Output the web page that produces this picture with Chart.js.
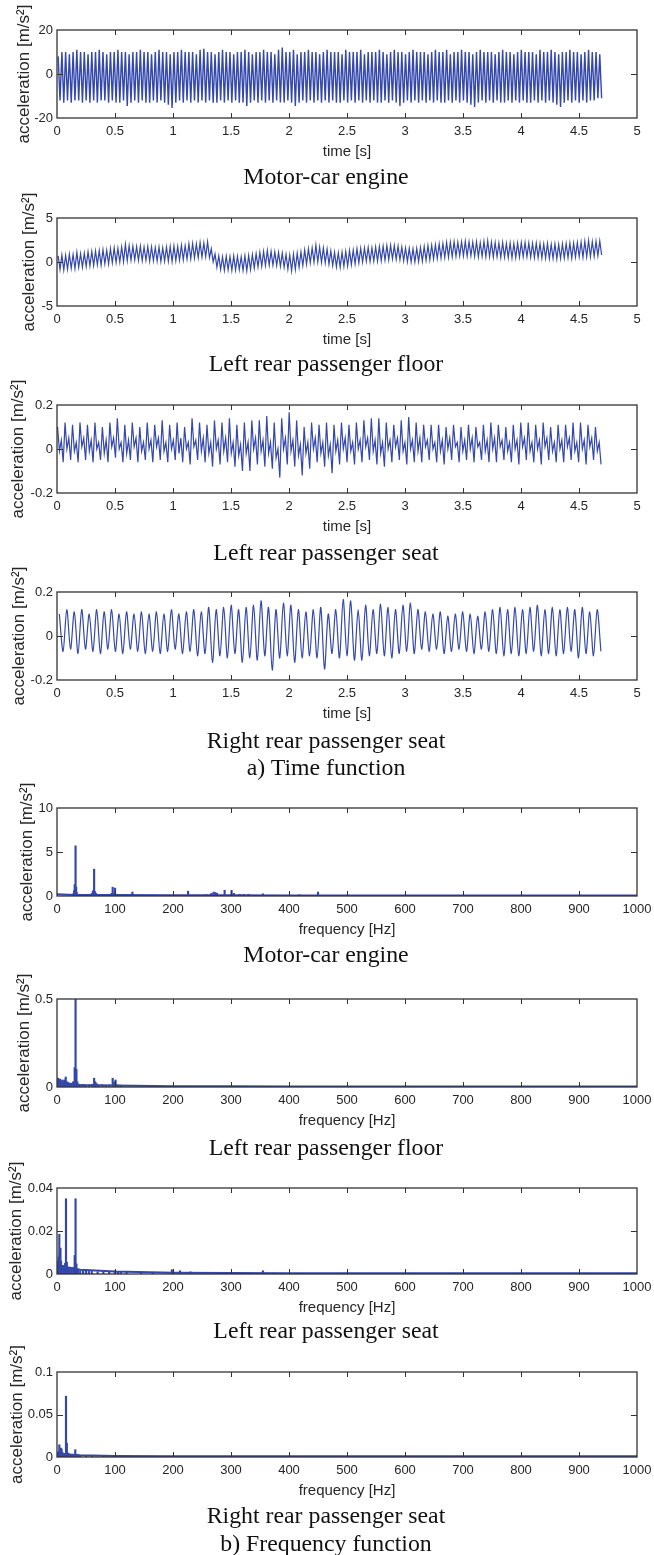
<!DOCTYPE html>
<html>
<head>
<meta charset="utf-8">
<script src="https://cdn.jsdelivr.net/npm/chart.js@4.4.1/dist/chart.umd.min.js"></script>
<style>
  body { margin: 0; background: #fff; }
  #page { position: relative; width: 654px; height: 1555px; overflow: hidden; background: #fff; }
  #page canvas { position: absolute; left: 0; }
  .caption {
    position: absolute; left: 0; width: 652px; text-align: center;
    font: 23.8px/1 "Liberation Serif", "Times New Roman", serif; color: #111; white-space: nowrap;
  }
</style>
</head>
<body>
<div id="page"></div>
<script>
// ---- axis ticks ----
const timeTicks = [0, 0.5, 1, 1.5, 2, 2.5, 3, 3.5, 4, 4.5, 5];
const freqTicks = [0, 100, 200, 300, 400, 500, 600, 700, 800, 900, 1000];
const engineTimeYTicks = [-20, 0, 20];
const floorTimeYTicks = [-5, 0, 5];
const seatTimeYTicks = [-0.2, 0, 0.2];
const engineSpecYTicks = [0, 5, 10];
const floorSpecYTicks = [0, 0.5];
const seatLSpecYTicks = [0, 0.02, 0.04];
const seatRSpecYTicks = [0, 0.05, 0.1];

// ---- time signals: successive maxima / minima of each oscillation ----
const halfStep = 0.0161;   // s between a maximum and the next minimum (~31 Hz)

const enginePeaks = [
  8, 10, 10, 9, 10, 11, 10, 10, 9, 10,
  10, 11, 10, 9, 10, 10, 11, 10, 10, 9,
  10, 10, 11, 10, 10, 9, 10, 11, 10, 10,
  9, 10, 10, 11, 10, 10, 10, 9, 11, 11.5,
  10, 10, 9, 10, 11, 10, 10, 9, 10, 10,
  11, 10, 9, 10, 10, 11, 10, 10, 9, 11,
  12, 10, 10, 11, 9, 10, 10, 11, 10, 10,
  9, 10, 11, 10, 10, 10, 9, 11, 10, 10,
  10, 11, 9, 10, 10, 10, 11, 10, 9, 10,
  11, 10, 10, 9, 10, 11, 10, 10, 10, 9,
  10, 11, 10, 10, 11, 9, 10, 10, 11, 10,
  10, 9, 10, 11, 10, 10, 10, 9, 10, 11,
  10, 10, 9, 10, 11, 10, 10, 10, 9, 11,
  10, 10, 11, 10, 9, 10, 10, 11, 10, 10,
  9, 10, 11, 10, 10, 9
];
const engineTroughs = [
  -12, -13, -12, -13, -12, -12, -13, -12, -13, -12,
  -13, -12, -12, -13, -12, -13, -13, -12, -14.5, -13,
  -12, -13, -12, -13, -13, -12, -13, -12, -13, -14,
  -15.5, -13, -12, -13, -12, -13, -12, -13, -12, -13,
  -12, -13, -13, -12, -13, -12, -13, -12, -13, -13,
  -14.5, -13, -12, -13, -12, -13, -12, -13, -12, -13,
  -13, -12, -13, -14.5, -13, -12, -13, -12, -13, -12,
  -13, -12, -13, -12, -13, -13, -12, -13, -12, -13,
  -12, -13, -12, -13, -12, -13, -13, -12, -13, -12,
  -13, -14.5, -13, -12, -13, -12, -13, -12, -13, -12,
  -13, -12, -13, -13, -12, -13, -12, -13, -12, -13,
  -14, -15, -13, -12, -13, -12, -13, -12, -13, -13,
  -12, -13, -12, -13, -12, -13, -13, -12, -13, -12,
  -13, -12, -13, -14, -15, -13, -12, -13, -12, -13,
  -12, -13, -12, -12, -11, -11
];

const floorPeaks = [
  0.7, 0.8, 0.75, 0.9, 0.85, 1.1, 0.95, 1.0, 1.15, 1.2,
  1.25, 1.3, 1.4, 1.35, 1.5, 1.6, 1.55, 1.7, 2.0, 1.85,
  1.8, 1.75, 1.8, 1.7, 1.75, 1.7, 1.65, 1.7, 1.6, 1.7,
  1.75, 1.8, 1.75, 1.9, 1.85, 2.05, 2.1, 2.05, 2.2, 2.15,
  2.3, 1.5, 0.9, 0.7, 0.6, 0.65, 0.6, 0.7, 0.65, 0.6,
  0.7, 0.75, 0.85, 0.95, 1.1, 1.2, 1.3, 1.2, 1.15, 1.1,
  1.0, 0.85, 0.8, 0.9, 1.0, 1.15, 1.35, 1.5, 1.6, 1.9,
  1.7, 1.6, 1.45, 1.25, 1.1, 1.05, 1.1, 1.2, 1.3, 1.35,
  1.5, 1.55, 1.6, 1.65, 1.6, 1.7, 1.75, 1.8, 1.85, 1.9,
  1.85, 1.8, 1.7, 1.6, 1.55, 1.5, 1.55, 1.65, 1.75, 1.85,
  1.9, 1.95, 2.05, 2.1, 2.2, 2.25, 2.3, 2.25, 2.3, 2.35,
  2.3, 2.25, 2.3, 2.2, 2.35, 2.4, 2.25, 2.2, 2.15, 2.2,
  2.1, 2.15, 2.1, 2.15, 2.2, 2.2, 2.15, 2.1, 2.15, 2.1,
  2.05, 2.1, 2.0, 2.05, 2.0, 2.05, 2.1, 2.15, 2.15, 2.2,
  2.25, 2.35, 2.45, 2.3, 2.35, 2.4
];
const floorTroughs = [
  -0.85, -0.9, -0.8, -0.7, -0.75, -0.6, -0.6, -0.5, -0.45, -0.4,
  -0.3, -0.35, -0.2, -0.2, -0.1, -0.05, 0.0, 0.05, 0.15, 0.2,
  0.25, 0.2, 0.15, 0.2, 0.1, 0.15, 0.1, 0.05, 0.1, 0.1,
  0.05, 0.15, 0.2, 0.25, 0.35, 0.35, 0.45, 0.5, 0.55, 0.6,
  0.5, 0.0, -0.6, -0.85, -0.95, -0.9, -0.95, -0.9, -0.85, -0.95,
  -1.0, -0.85, -0.7, -0.55, -0.5, -0.4, -0.35, -0.35, -0.4, -0.5,
  -0.6, -0.8, -1.0, -0.85, -0.6, -0.4, -0.25, -0.1, 0.0, 0.0,
  -0.05, -0.1, -0.25, -0.4, -0.55, -0.6, -0.5, -0.45, -0.3, -0.2,
  -0.1, 0.0, 0.1, 0.05, 0.1, 0.1, 0.15, 0.2, 0.25, 0.35,
  0.3, 0.25, 0.15, 0.05, 0.0, 0.0, 0.05, 0.1, 0.2, 0.25,
  0.35, 0.4, 0.45, 0.5, 0.55, 0.6, 0.65, 0.7, 0.7, 0.65,
  0.7, 0.65, 0.6, 0.65, 0.6, 0.6, 0.55, 0.6, 0.5, 0.55,
  0.5, 0.45, 0.5, 0.55, 0.6, 0.6, 0.55, 0.5, 0.5, 0.45,
  0.45, 0.4, 0.4, 0.35, 0.4, 0.45, 0.5, 0.45, 0.55, 0.6,
  0.55, 0.6, 0.6, 0.65, 0.7, 0.8
];

// left seat: main peak / small peak alternate, dip / trough alternate
const seatLPeaks = [
  .10, .04, .12, .05, .11, .03, .12, .05, .11, .04, .12, .03, .10, .04, .12, .05, .14, .03, .11, .04,
  .12, .05, .10, .03, .12, .04, .11, .05, .13, .03, .11, .04, .12, .05, .10, .03, .14, .04, .12, .05,
  .11, .03, .13, .04, .12, .05, .14, .03, .11, .02, .12, .03, .13, .05, .13, .04, .15, .03, .12, .00,
  .14, .05, .167, .04, .13, .02, .10, .03, .12, .05, .11, .03, .12, .02, .11, .04, .12, .05, .11, .03,
  .12, .04, .13, .05, .14, .04, .14, .03, .12, .04, .11, .05, .13, .03, .145, .04, .12, .05, .11, .04,
  .11, .03, .11, .04, .10, .05, .11, .03, .10, .04, .11, .05, .10, .03, .11, .04, .12, .05, .11, .04,
  .10, .03, .11, .04, .12, .05, .12, .03, .11, .04, .12, .05, .10, .03, .11, .04, .11, .05, .12, .03,
  .12, .04, .11, .05, .10, .03
];
const seatLTroughs = [
  -.01, -.06, .00, -.05, -.01, -.06, .01, -.05, -.01, -.06, .00, -.05, -.02, -.06, .01, -.04, .00, -.06, -.02, -.05,
  .01, -.06, -.01, -.05, .00, -.06, .01, -.05, -.01, -.06, .00, -.05, -.02, -.06, .00, -.07, .01, -.05, -.01, -.06,
  -.02, -.08, .00, -.07, -.01, -.06, -.02, -.08, -.03, -.10, -.02, -.10, .00, -.07, -.01, -.08, -.02, -.09, -.04, -.13,
  .00, -.07, -.01, -.08, -.03, -.12, -.02, -.09, .00, -.06, -.02, -.08, -.03, -.11, -.01, -.07, .00, -.06, -.01, -.07,
  .00, -.06, .01, -.05, -.01, -.07, -.02, -.08, .00, -.06, .01, -.05, -.01, -.07, .00, -.06, -.01, -.06, .01, -.05,
  .00, -.06, -.01, -.07, .00, -.05, .01, -.06, -.01, -.05, .00, -.06, .01, -.05, -.01, -.06, .00, -.06, .01, -.05,
  -.01, -.06, .00, -.07, .01, -.05, -.01, -.06, .00, -.07, .01, -.05, -.01, -.06, .00, -.06, .01, -.05, -.01, -.06,
  .00, -.07, .01, -.05, -.01, -.07
];

// right seat: one maximum and one minimum per ~15.5 Hz cycle
const seatRPeaks = [
  .10, .12, .11, .12, .10, .12, .11, .12, .10, .11,
  .10, .11, .10, .11, .10, .12, .10, .11, .12, .11,
  .13, .12, .13, .14, .12, .13, .14, .16, .13, .12,
  .15, .14, .12, .11, .12, .13, .10, .12, .167, .16,
  .12, .14, .12, .145, .13, .12, .14, .15, .12, .11,
  .10, .11, .09, .10, .11, .10, .09, .11, .12, .13,
  .12, .13, .12, .13, .14, .12, .13, .12, .13, .12,
  .13, .11, .12
];
const seatRTroughs = [
  -.07, -.06, -.08, -.06, -.07, -.08, -.06, -.07, -.08, -.06,
  -.07, -.08, -.07, -.08, -.07, -.06, -.08, -.07, -.09, -.08,
  -.12, -.09, -.10, -.08, -.12, -.10, -.11, -.09, -.155, -.10,
  -.09, -.12, -.10, -.09, -.10, -.15, -.08, -.10, -.09, -.11,
  -.11, -.09, -.08, -.09, -.10, -.08, -.07, -.08, -.06, -.07,
  -.06, -.08, -.07, -.06, -.07, -.08, -.06, -.07, -.08, -.09,
  -.08, -.09, -.08, -.07, -.09, -.08, -.09, -.08, -.07, -.10,
  -.08, -.09, -.07
];

// ---- spectra: discrete lines (Hz, amplitude) plus the low noise floor ----
const engineLineFreq = [28, 29.5, 30.5, 32, 33, 34, 36, 60, 62, 64, 65.5, 67, 69, 94, 96, 98, 100, 127, 130, 226, 258, 266, 270, 273, 276, 289, 301, 305, 315, 322, 330, 355, 418, 450];
const engineLineAmp  = [0.25, 0.6, 1.3, 5.7, 1.0, 0.4, 0.2, 0.3, 0.6, 3.05, 0.5, 0.3, 0.2, 0.3, 1.0, 0.3, 0.9, 0.2, 0.45, 0.55, 0.15, 0.3, 0.45, 0.4, 0.3, 0.65, 0.65, 0.3, 0.2, 0.2, 0.2, 0.25, 0.15, 0.45];

const floorLineFreq = [2, 4, 5, 7, 9, 11, 13, 15, 17, 19, 22, 25, 28, 30.5, 32, 33.5, 35, 38, 42, 46, 50, 55, 60, 64, 66, 68, 72, 78, 84, 90, 96, 99, 101, 105, 110];
const floorLineAmp  = [0.05, 0.04, 0.045, 0.03, 0.04, 0.035, 0.04, 0.057, 0.03, 0.025, 0.02, 0.02, 0.03, 0.11, 0.5, 0.1, 0.03, 0.015, 0.012, 0.015, 0.01, 0.012, 0.015, 0.05, 0.03, 0.02, 0.01, 0.012, 0.01, 0.012, 0.05, 0.03, 0.04, 0.012, 0.01];

const seatLLineFreq = [1, 2, 3, 4, 5, 6, 7, 8, 9, 10, 11, 12, 13, 14, 15.5, 17, 18, 20, 22, 25, 28, 30.5, 32, 33.5, 36, 40, 45, 50, 55, 60, 70, 80, 90, 100, 105, 110, 120, 145, 165, 198, 212, 230, 355];
const seatLLineAmp  = [0.004, 0.006, 0.008, 0.0185, 0.01, 0.012, 0.006, 0.004, 0.004, 0.003, 0.004, 0.003, 0.004, 0.005, 0.035, 0.0055, 0.003, 0.003, 0.0025, 0.003, 0.003, 0.0086, 0.035, 0.0047, 0.002, 0.0015, 0.0015, 0.0015, 0.0012, 0.0012, 0.001, 0.0012, 0.001, 0.0015, 0.0012, 0.001, 0.0008, 0.0008, 0.0008, 0.002, 0.0015, 0.001, 0.0015];

const seatRLineFreq = [1, 2, 3, 4, 5, 6, 7, 8, 9, 10, 12, 14, 15.5, 17, 18, 20, 22, 25, 28, 31.5, 33, 36, 40, 50, 60, 80, 105];
const seatRLineAmp  = [0.004, 0.006, 0.005, 0.0144, 0.008, 0.005, 0.0105, 0.009, 0.004, 0.005, 0.003, 0.004, 0.0716, 0.0163, 0.005, 0.004, 0.003, 0.003, 0.002, 0.0086, 0.003, 0.002, 0.0015, 0.0012, 0.001, 0.001, 0.002];

const noiseFreq     = [0, 20, 40, 100, 200, 300, 400, 500, 600, 700, 800, 900, 1000];
const engineNoise   = [0.2, 0.15, 0.12, 0.1, 0.08, 0.08, 0.07, 0.06, 0.06, 0.05, 0.05, 0.05, 0.05];
const floorNoise    = [0.02, 0.02, 0.012, 0.008, 0.004, 0.004, 0.003, 0.003, 0.003, 0.003, 0.003, 0.003, 0.003];
const seatLNoise    = [0.003, 0.003, 0.002, 0.0012, 0.0006, 0.0005, 0.0004, 0.0004, 0.0004, 0.0004, 0.0004, 0.0004, 0.0004];
const seatRNoise    = [0.004, 0.003, 0.002, 0.0012, 0.001, 0.001, 0.001, 0.001, 0.001, 0.001, 0.001, 0.001, 0.001];

// ---- helpers ----
const BLUE = '#3447aa';
const SANS = '"Liberation Sans", Arial, Helvetica, sans-serif';
const PAD_TOP = 30;
const AXIS_H = 50;

// alternate maxima and minima along the time axis
function zigzag(highs, lows, t0, step) {
  const pts = [];
  for (let i = 0; i < highs.length; i++) {
    pts.push({ x: t0 + 2 * i * step, y: highs[i] });
    if (i < lows.length) pts.push({ x: t0 + (2 * i + 1) * step, y: lows[i] });
  }
  return pts;
}

function pairs(xs, ys) {
  return xs.map((x, i) => ({ x: x, y: ys[i] }));
}

function timeSet(points, width, tension) {
  return { type: 'line', data: points, borderColor: BLUE, borderWidth: width, pointRadius: 0, tension: tension || 0 };
}

function specSets(lineFreq, lineAmp, noise) {
  return [
    { type: 'line', data: pairs(noiseFreq, noise), borderColor: BLUE, borderWidth: 2, pointRadius: 0 },
    { type: 'bar', data: pairs(lineFreq, lineAmp), backgroundColor: BLUE, borderWidth: 0, barThickness: 1.5 }
  ];
}

// MATLAB-like box: inward ticks, frame and rotated y label
const boxPlugin = {
  id: 'box',
  afterDatasetsDraw(chart, args, opts) {
    const { ctx, chartArea: a, scales } = chart;
    ctx.save();
    ctx.strokeStyle = '#333';
    ctx.lineWidth = 1;
    ctx.beginPath();
    scales.x.ticks.forEach(t => {
      const px = Math.round(scales.x.getPixelForValue(t.value)) + 0.5;
      if (px < a.left + 2 || px > a.right - 2) return;
      ctx.moveTo(px, a.top); ctx.lineTo(px, a.top + 5);
      ctx.moveTo(px, a.bottom); ctx.lineTo(px, a.bottom - 5);
    });
    scales.y.ticks.forEach(t => {
      const py = Math.round(scales.y.getPixelForValue(t.value)) + 0.5;
      if (py < a.top + 2 || py > a.bottom - 2) return;
      ctx.moveTo(a.left, py); ctx.lineTo(a.left + 6, py);
      ctx.moveTo(a.right, py); ctx.lineTo(a.right - 6, py);
    });
    ctx.stroke();
    ctx.lineWidth = 1.3;
    ctx.strokeRect(a.left, a.top, a.right - a.left, a.bottom - a.top);

    ctx.translate(opts.titleX, (a.top + a.bottom) / 2);
    ctx.rotate(-Math.PI / 2);
    ctx.font = '17px ' + SANS;
    ctx.fillStyle = '#262626';
    ctx.textAlign = 'center';
    ctx.textBaseline = 'middle';
    ctx.fillText('acceleration [m/s²]', 0, 0);
    ctx.restore();
  }
};

const page = document.getElementById('page');

function panel(p) {
  const canvas = document.createElement('canvas');
  const h = PAD_TOP + p.plotH + AXIS_H;
  canvas.width = 654;
  canvas.height = h;
  canvas.style.top = (p.top - PAD_TOP) + 'px';
  page.appendChild(canvas);

  new Chart(canvas, {
    type: p.spectrum ? 'bar' : 'line',
    data: { datasets: p.datasets },
    options: {
      responsive: false,
      animation: false,
      devicePixelRatio: 1,
      layout: { padding: { top: PAD_TOP, right: 17, left: 0, bottom: 0 } },
      plugins: {
        legend: { display: false },
        tooltip: { enabled: false },
        box: { titleX: p.titleX }
      },
      scales: {
        x: {
          type: 'linear', min: 0, max: p.xTicks[p.xTicks.length - 1], offset: false,
          afterBuildTicks: s => { s.ticks = p.xTicks.map(v => ({ value: v })); },
          afterFit: s => { s.height = AXIS_H; },
          grid: { display: false, drawTicks: false },
          border: { display: false },
          ticks: { padding: 0, maxRotation: 0, autoSkip: false, color: '#262626',
                   font: { family: SANS, size: 13, lineHeight: 2 }, callback: v => String(v) },
          title: { display: true, text: p.xTitle, color: '#262626', font: { family: SANS, size: 15 }, padding: { top: 0, bottom: 7.5 } }
        },
        y: {
          type: 'linear', min: p.yTicks[0], max: p.yTicks[p.yTicks.length - 1],
          afterBuildTicks: s => { s.ticks = p.yTicks.map(v => ({ value: v })); },
          afterFit: s => { s.width = 57; },
          grid: { display: false, drawTicks: false },
          border: { display: false },
          ticks: { padding: 4, autoSkip: false, color: '#262626', font: { family: SANS, size: 13 }, callback: v => String(v) }
        }
      }
    },
    plugins: [boxPlugin]
  });

  const cap = document.createElement('div');
  cap.className = 'caption';
  cap.textContent = p.caption;
  cap.style.top = (p.captionY - 12) + 'px';
  page.appendChild(cap);
}

function heading(text, y) {
  const d = document.createElement('div');
  d.className = 'caption';
  d.textContent = text;
  d.style.top = (y - 12) + 'px';
  page.appendChild(d);
}

const panels = [
  { top: 30, plotH: 88, titleX: 24.5, xTicks: timeTicks, yTicks: engineTimeYTicks, xTitle: 'time [s]',
    caption: 'Motor-car engine', captionY: 176.5,
    datasets: [timeSet(zigzag(enginePeaks, engineTroughs, 0.01, halfStep), 1.4)] },
  { top: 218, plotH: 88, titleX: 29, xTicks: timeTicks, yTicks: floorTimeYTicks, xTitle: 'time [s]',
    caption: 'Left rear passenger floor', captionY: 363.5,
    datasets: [timeSet(zigzag(floorPeaks, floorTroughs, 0.01, halfStep), 1.2)] },
  { top: 405, plotH: 88, titleX: 18, xTicks: timeTicks, yTicks: seatTimeYTicks, xTitle: 'time [s]',
    caption: 'Left rear passenger seat', captionY: 552.5,
    datasets: [timeSet(zigzag(seatLPeaks, seatLTroughs, 0.005, halfStep), 1.2)] },
  { top: 592, plotH: 88, titleX: 19, xTicks: timeTicks, yTicks: seatTimeYTicks, xTitle: 'time [s]',
    caption: 'Right rear passenger seat', captionY: 741,
    datasets: [timeSet(zigzag(seatRPeaks, seatRTroughs, 0.02, 2 * halfStep), 1.2, 0.3)] },
  { top: 808, plotH: 88, titleX: 27, xTicks: freqTicks, yTicks: engineSpecYTicks, xTitle: 'frequency [Hz]', spectrum: true,
    caption: 'Motor-car engine', captionY: 954.5,
    datasets: specSets(engineLineFreq, engineLineAmp, engineNoise) },
  { top: 999, plotH: 88, titleX: 24.5, xTicks: freqTicks, yTicks: floorSpecYTicks, xTitle: 'frequency [Hz]', spectrum: true,
    caption: 'Left rear passenger floor', captionY: 1147.5,
    datasets: specSets(floorLineFreq, floorLineAmp, floorNoise) },
  { top: 1188, plotH: 86, titleX: 16, xTicks: freqTicks, yTicks: seatLSpecYTicks, xTitle: 'frequency [Hz]', spectrum: true,
    caption: 'Left rear passenger seat', captionY: 1330.5,
    datasets: specSets(seatLLineFreq, seatLLineAmp, seatLNoise) },
  { top: 1372, plotH: 85, titleX: 17.5, xTicks: freqTicks, yTicks: seatRSpecYTicks, xTitle: 'frequency [Hz]', spectrum: true,
    caption: 'Right rear passenger seat', captionY: 1515.5,
    datasets: specSets(seatRLineFreq, seatRLineAmp, seatRNoise) }
];

panels.forEach(panel);
heading('a) Time function', 768);
heading('b) Frequency function', 1544);
</script>
</body>
</html>
